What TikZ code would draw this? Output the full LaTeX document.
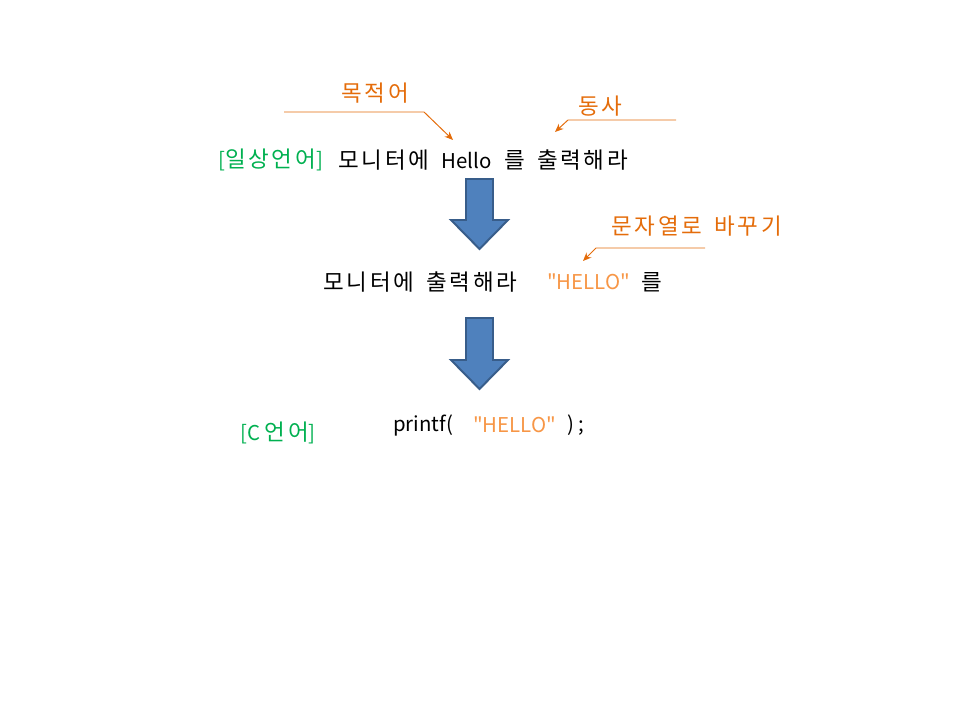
\documentclass[tikz,border=0pt]{standalone}
\usepackage{fontspec}
\setmainfont{Noto Sans CJK KR}[Ligatures=TeXOff]
\newfontfamily\hangul[LetterSpace=12, WordSpace=1.6]{Noto Sans CJK KR}
\usetikzlibrary{arrows.meta}
\definecolor{termgreen}{HTML}{00B050}
\definecolor{noteorange}{HTML}{E46C0A}
\definecolor{strorange}{HTML}{F79646}
\definecolor{arrowfill}{HTML}{4F81BD}
\definecolor{arrowdraw}{HTML}{385D8A}
% latin part at its own size, straight quotes
\newcommand{\lat}[1]{{\normalfont\fontsize{14.5}{16}\selectfont #1}}
\begin{document}
\begin{tikzpicture}[x=0.025cm, y=-0.025cm,
    every node/.style={font=\hangul\fontsize{16}{18}\selectfont, inner sep=0pt, anchor=west},
    lang/.style={text=termgreen},
    sentence/.style={text=black},
    strtext/.style={text=strorange, font=\normalfont\fontsize{14.5}{16}\selectfont},
    note/.style={text=noteorange},
    pointer/.style={draw=noteorange, line width=0.7pt, -{Stealth[length=6pt, width=5pt]}},
    bigarrow/.style={fill=arrowfill, draw=arrowdraw, line width=1.4pt, line join=miter}
  ]
    \useasboundingbox (0,0) rectangle (960,720);

    % first line
    \node[lang] (daily) at (218,160) {\lat{[}일상언어\lat{]}};
    \node[sentence] (hello) at (338,160) {모니터에 \lat{Hello} 를 출력해라};
    \node[note] (object) at (341,93) {목적어};
    \node[note] (verb) at (578,106) {동사};
    \coordinate (objstart) at (284,112);
    \coordinate (objbend) at (424,112);
    \coordinate (objend) at (453,140);
    \coordinate (verbstart) at (676,120);
    \coordinate (verbbend) at (568,120);
    \coordinate (verbend) at (555,132);
    \draw[pointer] (objstart) -- (objbend) -- (objend);
    \draw[pointer] (verbstart) -- (verbbend) -- (verbend);

    \draw[bigarrow] (466,179) -- (493,179) -- (493,220) -- (508,220) -- (479.5,249)
      -- (451,220) -- (466,220) -- cycle;

    % second line
    \node[sentence] (print) at (323,282) {모니터에 출력해라};
    \node[strtext] (hellostr) at (547,282) {"HELLO"};
    \node[sentence] (josa) at (641,282) {를};
    \node[note] (tostring) at (611,226) {문자열로 바꾸기};
    \coordinate (strstart) at (705,248);
    \coordinate (strbend) at (596,248);
    \coordinate (strend) at (583,261);
    \draw[pointer] (strstart) -- (strbend) -- (strend);

    \draw[bigarrow] (466,318) -- (493,318) -- (493,360) -- (508,360) -- (479.5,389)
      -- (451,360) -- (466,360) -- cycle;

    % C code
    \node[lang] (clang) at (240,433) {\lat{[C }언어\lat{]}};
    \node[sentence] (printf) at (393,425) {\lat{printf(}};
    \node[strtext] (cstr) at (473,425) {"HELLO"};
    \node[sentence] (close) at (567,425) {\lat{) ;}};
\end{tikzpicture}
\end{document}
